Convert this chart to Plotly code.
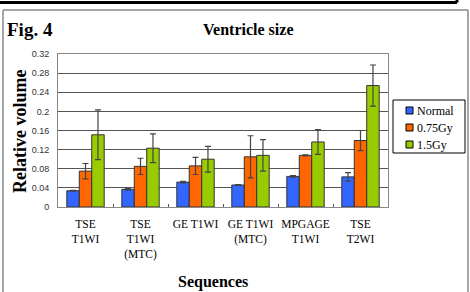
import plotly.graph_objects as go

categories = ["TSE<br>T1WI", "TSE<br>T1WI<br>(MTC)", "GE T1WI", "GE T1WI<br>(MTC)", "MPGAGE<br>T1WI", "TSE<br>T2WI"]
series_names = ["Normal", "0.75Gy", "1.5Gy"]
normal = [0.034, 0.037, 0.052, 0.046, 0.064, 0.063]
normal_err = [0.001, 0.002, 0.0015, 0.001, 0.0015, 0.009]
gy075 = [0.075, 0.085, 0.086, 0.105, 0.108, 0.139]
gy075_err = [0.016, 0.017, 0.018, 0.044, 0.001, 0.021]
gy15 = [0.151, 0.123, 0.100, 0.108, 0.136, 0.254]
gy15_err = [0.052, 0.030, 0.027, 0.033, 0.026, 0.043]
y_ticks = [0, 0.04, 0.08, 0.12, 0.16, 0.2, 0.24, 0.28, 0.32]
colors = ["#3366FF", "#FF6600", "#99CC00"]

SERIF = "Liberation Serif, Times New Roman, serif"
SANS = "Liberation Sans, Arial, sans-serif"

fig = go.Figure()
for name, vals, errs, col in zip(series_names, [normal, gy075, gy15], [normal_err, gy075_err, gy15_err], colors):
    fig.add_trace(go.Bar(
        name=name, x=categories, y=vals, showlegend=False,
        marker=dict(color=col, line=dict(color="#333333", width=1)),
        error_y=dict(type="data", array=errs, visible=True, color="#444444", thickness=1.2, width=3),
    ))

# plot area: x 58..388, y 54..207
L, R, T, B = 58, 388, 54, 207
W, H = 470, 292
pw, ph = R - L, B - T
def px(x):
    return (x - L) / pw
def py(y):
    return (B - y) / ph

annotations = [
    dict(text="<b>Fig. 4</b>", x=px(5), y=py(30), xref="paper", yref="paper",
         xanchor="left", yanchor="middle", showarrow=False,
         font=dict(family=SERIF, size=19, color="#000")),
    dict(text="<b>Ventricle size</b>", x=px(248), y=py(30), xref="paper", yref="paper",
         xanchor="center", yanchor="middle", showarrow=False,
         font=dict(family=SERIF, size=16, color="#000")),
    dict(text="<b>Relative volume</b>", x=px(20), y=py(132), xref="paper", yref="paper",
         xanchor="center", yanchor="middle", showarrow=False, textangle=-90,
         font=dict(family=SERIF, size=18, color="#000")),
    dict(text="<b>Sequences</b>", x=px(213), y=py(282), xref="paper", yref="paper",
         xanchor="center", yanchor="middle", showarrow=False,
         font=dict(family=SERIF, size=16, color="#000")),
]

shapes = [
    dict(type="line", xref="paper", yref="paper", x0=px(0), x1=px(457), y0=py(2.5), y1=py(2.5),
         line=dict(color="#000", width=3)),
    dict(type="line", xref="paper", yref="paper", x0=px(457), x1=px(457), y0=py(0), y1=py(2.5),
         line=dict(color="#000", width=3)),
    dict(type="line", xref="paper", yref="paper", x0=px(3), x1=px(468), y0=py(10), y1=py(10),
         line=dict(color="#888", width=1.5)),
    dict(type="line", xref="paper", yref="paper", x0=px(3), x1=px(3), y0=py(10), y1=py(292),
         line=dict(color="#888", width=1.5)),
    dict(type="line", xref="paper", yref="paper", x0=px(468), x1=px(468), y0=py(10), y1=py(292),
         line=dict(color="#888", width=1.5)),
    # legend box
    dict(type="rect", xref="paper", yref="paper", x0=px(393), x1=px(465), y0=py(100), y1=py(153),
         line=dict(color="#000", width=1), fillcolor="white"),
]
for i, (name, col) in enumerate(zip(series_names, colors)):
    yc = 110.5 + 17 * i
    shapes.append(dict(type="rect", xref="paper", yref="paper", x0=px(406), x1=px(413),
                       y0=py(yc + 3.5), y1=py(yc - 3.5),
                       line=dict(color="#000", width=1), fillcolor=col))
    annotations.append(dict(text=name, x=px(415), y=py(yc), xref="paper", yref="paper",
                            xanchor="left", yanchor="middle", showarrow=False,
                            font=dict(family=SERIF, size=12, color="#000")))

fig.update_layout(
    width=W, height=H,
    margin=dict(l=L, r=W - R, t=T, b=H - B, autoexpand=False),
    paper_bgcolor="white", plot_bgcolor="white",
    barmode="group", bargap=0.32, bargroupgap=0,
    showlegend=False,
    xaxis=dict(
        type="category", showgrid=False, showline=True, linecolor="#888888", linewidth=1,
        ticks="inside", tickson="boundaries", ticklen=3, tickcolor="#555",
        tickfont=dict(family=SERIF, size=11.5, color="#000"),
        ticklabelstandoff=6, mirror=True, tickangle=0, automargin=False,
    ),
    yaxis=dict(
        range=[0, 0.32], tickvals=y_ticks, ticktext=[("%g" % v) for v in y_ticks],
        showgrid=True, gridcolor="#555555", gridwidth=1,
        showline=True, linecolor="#888888", linewidth=1, mirror=True,
        ticks="", ticklabelstandoff=6,
        tickfont=dict(family=SANS, size=9, color="#333"),
        zeroline=False, automargin=False,
    ),
    annotations=annotations,
    shapes=shapes,
)

fig.write_html("out.html", config={"displayModeBar": False},
               post_script="document.body.style.margin='0';")
